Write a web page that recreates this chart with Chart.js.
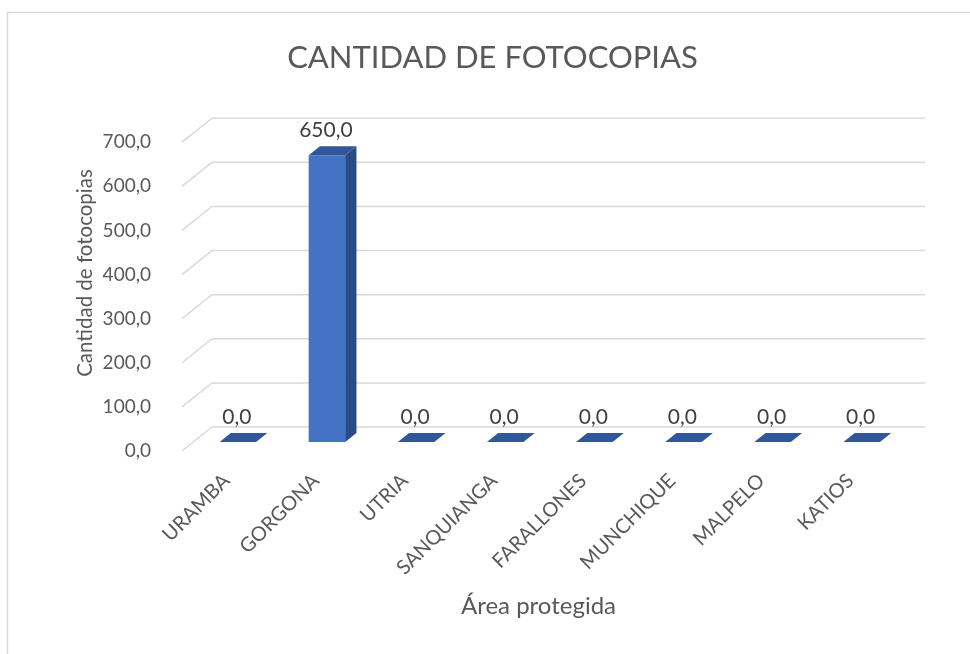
<!DOCTYPE html>
<html>
<head>
<meta charset="utf-8">
<script src="https://cdn.jsdelivr.net/npm/chart.js@4"></script>
<style>
  html, body { margin: 0; padding: 0; background: #fff; }
  canvas { display: block; }
</style>
</head>
<body>
<canvas id="grafico" width="970" height="654"></canvas>
<script>
// Datos del gráfico
const areas = ['URAMBA', 'GORGONA', 'UTRIA', 'SANQUIANGA', 'FARALLONES', 'MUNCHIQUE', 'MALPELO', 'KATIOS'];
const fotocopias = [0, 650, 0, 0, 0, 0, 0, 0];
const ticksY = [0, 100, 200, 300, 400, 500, 600, 700];

const fuente = 'Lato, "Open Sans", sans-serif';
const gris = '#595959';
const profundidad = { x: 30, y: -24 };  // desplazamiento hacia la pared del fondo

Chart.defaults.font.family = fuente;

function formato(v) {
    return Number(v).toFixed(1).replace('.', ',');
}

// borde del área del gráfico
const marco = {
    id: 'marco',
    beforeDraw(chart) {
        const ctx = chart.ctx;
        ctx.save();
        ctx.strokeStyle = '#d9d9d9';
        ctx.lineWidth = 1.5;
        ctx.beginPath();
        ctx.moveTo(7.5, chart.height);
        ctx.lineTo(7.5, 12.5);
        ctx.lineTo(chart.width, 12.5);
        ctx.stroke();
        ctx.restore();
    }
};

// líneas de la pared del fondo (efecto 3D)
const pared = {
    id: 'pared',
    beforeDatasetsDraw(chart) {
        const { ctx, chartArea, scales } = chart;
        const y = scales.y;
        ctx.save();
        ctx.strokeStyle = '#d9d9d9';
        ctx.lineWidth = 1.5;
        y.ticks.forEach(t => {
            const py = y.getPixelForValue(t.value);
            ctx.beginPath();
            ctx.moveTo(chartArea.left, py);
            ctx.lineTo(chartArea.left + profundidad.x, py + profundidad.y);
            ctx.lineTo(chartArea.right + profundidad.x, py + profundidad.y);
            ctx.stroke();
        });
        ctx.restore();
    }
};

// barras en 3D con sus etiquetas
const barras3d = {
    id: 'barras3d',
    afterDatasetsDraw(chart) {
        const ctx = chart.ctx;
        const meta = chart.getDatasetMeta(0);
        const ax = profundidad.x * 0.375, ay = profundidad.y * 0.375;
        const bx = profundidad.x * 0.75, by = profundidad.y * 0.75;
        ctx.save();
        meta.data.forEach((bar, i) => {
            const { x, y, base, width } = bar.getProps(['x', 'y', 'base', 'width'], true);
            const l = x - width / 2, r = x + width / 2;
            if (base - y > 0.5) {
                ctx.fillStyle = '#4472c4';
                ctx.fillRect(l + ax, y + ay, width, base - y);
                // cara lateral
                ctx.fillStyle = '#2b4b85';
                ctx.beginPath();
                ctx.moveTo(r + ax, y + ay);
                ctx.lineTo(r + bx, y + by);
                ctx.lineTo(r + bx, base + by);
                ctx.lineTo(r + ax, base + ay);
                ctx.closePath();
                ctx.fill();
            }
            // cara superior
            ctx.fillStyle = '#31569a';
            ctx.beginPath();
            ctx.moveTo(l + ax, y + ay);
            ctx.lineTo(r + ax, y + ay);
            ctx.lineTo(r + bx, y + by);
            ctx.lineTo(l + bx, y + by);
            ctx.closePath();
            ctx.fill();

            ctx.fillStyle = '#404040';
            ctx.font = '21px ' + fuente;
            ctx.textAlign = 'center';
            ctx.textBaseline = 'middle';
            ctx.fillText(formato(fotocopias[i]), x + ax - 1, y + ay - 25);
        });
        ctx.restore();
    }
};

// título del eje vertical
const tituloY = {
    id: 'tituloY',
    afterDraw(chart) {
        const ctx = chart.ctx;
        ctx.save();
        ctx.translate(85, 273);
        ctx.rotate(-Math.PI / 2);
        ctx.fillStyle = gris;
        ctx.font = '20.5px ' + fuente;
        ctx.textAlign = 'center';
        ctx.textBaseline = 'middle';
        ctx.fillText('Cantidad de fotocopias', 0, 0);
        ctx.restore();
    }
};

new Chart(document.getElementById('grafico'), {
    type: 'bar',
    data: {
        labels: areas,
        datasets: [{
            label: 'Cantidad de fotocopias',
            data: fotocopias,
            backgroundColor: 'rgba(0,0,0,0)',
            categoryPercentage: 1,
            barPercentage: 0.41
        }]
    },
    options: {
        responsive: false,
        animation: false,
        devicePixelRatio: 1,
        layout: { padding: { left: 90, right: 75, top: 0, bottom: 30 } },
        plugins: {
            legend: { display: false },
            tooltip: { enabled: false },
            title: {
                display: true,
                text: 'CANTIDAD DE FOTOCOPIAS',
                color: gris,
                font: { size: 31, weight: 'normal' },
                padding: { top: 39, bottom: 66 }
            }
        },
        scales: {
            x: {
                grid: { display: false, drawTicks: false },
                border: { display: false },
                ticks: { color: gris, font: { size: 20 }, minRotation: 45, maxRotation: 45, autoSkip: false, padding: 18 },
                title: { display: true, text: 'Área protegida', color: gris, font: { size: 24 }, padding: { top: 4, bottom: 3 } },
                afterFit(s) { s.height = 173; }
            },
            y: {
                min: 0,
                max: 700,
                afterBuildTicks(s) { s.ticks = ticksY.map(v => ({ value: v })); },
                grid: { display: false, drawTicks: false },
                border: { display: false },
                ticks: { color: gris, font: { size: 19 }, padding: 31, callback: v => formato(v) },
                afterFit(s) { s.width = 92; }
            }
        }
    },
    plugins: [marco, pared, barras3d, tituloY]
});
</script>
</body>
</html>
